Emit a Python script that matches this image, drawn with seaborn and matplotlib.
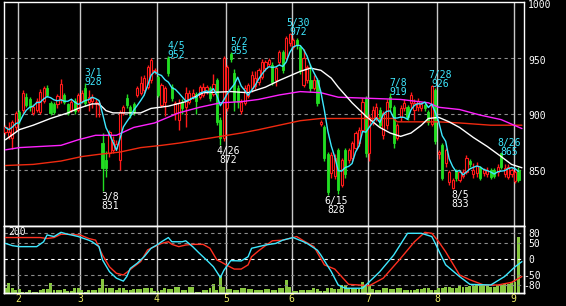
import numpy as np
import pandas as pd
import matplotlib
matplotlib.use("Agg")
import matplotlib.pyplot as plt
import seaborn as sns
from matplotlib.transforms import offset_copy

# ---------------- data ----------------
opens = [884,880,879,888,902,904,915,913,901,904,
         902,912,923,910,909,909,913,917,909,904,
         912,904,912,923,911,912,910,908,874,859,
         865,868,870,859,901,914,906,909,917,919,
         921,924,930,938,933,908,911,950,924,901,
         895,911,906,911,916,918,915,917,920,923,
         918,930,895,879,905,954,937,923,903,910,
         916,923,925,929,933,941,945,944,930,946,
         955,950,963,960,966,960,926,930,930,923,
         930,891,888,864,847,845,868,837,868,859,
         861,870,874,886,914,865,895,897,904,881,
         890,915,906,879,897,905,906,910,904,906,
         905,908,902,891,921,864,872,856,839,834,
         849,841,845,848,858,846,847,852,847,846,
         850,850,848,865,846,844,846,840,850]
highs = [890,893,895,903,904,921,919,915,909,914,
         922,925,926,912,911,918,931,919,910,913,
         914,919,921,928,921,918,913,912,883,867,
         886,880,877,904,908,918,908,911,925,934,
         935,944,950,941,935,928,925,952,927,912,
         913,913,924,921,922,920,926,928,926,925,
         936,932,897,952,944,955,940,926,913,926,
         928,938,938,941,949,948,950,946,943,957,
         957,970,972,968,968,962,958,944,945,935,
         932,895,890,866,866,864,870,861,870,870,
         876,885,888,914,916,900,907,910,906,903,
         913,919,908,892,908,913,908,920,913,914,
         911,910,904,926,923,868,874,870,850,843,
         851,850,851,863,860,856,857,854,852,853,
         852,852,855,865,855,855,852,850,853]
lows = [882,878,869,885,891,900,906,903,899,902,
        900,910,915,899,900,905,910,909,899,902,
        900,902,910,907,903,905,897,897,831,844,
        862,865,868,850,899,905,896,899,915,917,
        919,922,928,936,915,906,898,934,912,895,
        886,900,888,909,913,900,913,915,918,912,
        916,890,872,876,903,946,903,905,900,908,
        914,920,922,926,931,938,943,926,925,944,
        937,948,961,958,958,936,924,928,920,921,
        907,889,858,828,843,842,829,835,843,856,
        858,868,871,884,862,858,890,894,888,878,
        887,903,870,877,894,903,895,905,895,903,
        903,903,890,889,873,860,841,853,837,833,
        840,839,843,846,853,843,844,841,845,844,
        842,843,845,851,844,842,844,838,839]
closes = [888,884,893,901,896,919,908,906,906,912,
          920,923,917,901,902,916,927,911,901,911,
          903,917,919,910,915,914,911,910,852,852,
          884,877,873,902,906,908,899,902,923,928,
          932,942,948,939,917,926,923,937,914,910,
          910,905,919,919,919,912,924,924,924,914,
          927,893,879,950,942,949,912,911,911,923,
          926,935,932,939,946,946,948,929,941,955,
          939,968,971,966,962,939,950,942,923,930,
          910,893,861,830,863,861,832,859,846,868,
          874,883,886,911,865,897,904,906,890,901,
          911,906,874,890,905,910,897,917,910,912,
          909,905,893,925,876,866,843,868,848,841,
          843,848,848,861,855,850,854,843,850,850,
          844,845,853,853,852,853,850,848,841]
volume = [14,29,14,9,11,4,4,8,4,4,
          9,13,11,31,9,9,9,11,6,6,
          14,14,9,4,9,9,9,16,42,16,
          16,16,9,14,14,9,9,11,11,11,
          14,14,14,6,6,9,16,11,11,18,
          18,9,9,18,18,4,4,9,9,14,
          26,9,51,19,11,11,9,9,14,14,
          11,11,9,9,9,12,12,9,9,14,
          14,39,19,7,7,9,9,9,9,14,
          11,7,7,14,14,11,11,24,24,14,
          14,11,11,34,24,24,11,9,9,14,
          14,11,11,14,14,9,9,9,9,11,
          11,14,14,9,9,14,14,19,19,16,
          16,24,19,19,21,21,26,26,24,24,
          19,19,24,24,26,26,34,34,166]

# moving averages (day index, price)
ma_white_day = [0,4,8,13,18,21,25,27,29,31,39,42,47,52,57,65,70,75,79,85,88,91,94,96,100,104,108,111,114,117,120,122,125,128,131,135,139,143,146,149]
ma_white_val = [877,886,890,896,901,905,909,909,903,901,901,905,907,911,919,920,919,924,930,938,941,939,932,924,910,898,888,883,880,883,890,896,897,893,888,879,871,862,855,852]
ma_mag_day = [0,4,16,21,26,32,37,43,50,56,62,68,73,79,85,91,96,105,114,122,125,131,137,143,149]
ma_mag_val = [868,870,872,877,881,881,888,892,901,906,910,911,913,917,920,919,915,914,913,910,906,904,899,895,887]
ma_red_day = [0,8,16,22,27,33,39,45,50,56,62,68,73,79,85,91,97,105,112,113,125,131,140,149]
ma_red_val = [854,855,858,862,864,866,870,872,874,877,880,883,886,890,894,896,896,896,896,893,893,892,890,890]

# oscillator (day index, value)
osc1_day = [0,2,4,9,11,12,14,16,18,19,21,24,25,27,28,30,32,34,35,36,38,40,42,44,45,47,48,51,52,54,56,58,60,62,63,65,68,70,71,73,75,78,80,83,86,87,90,91,94,96,98,103,104,108,112,116,120,123,124,127,131,134,140,144,147,149]
osc1_val = [48,41,38,38,53,74,69,82,76,74,69,58,53,38,-3,-39,-59,-68,-54,-29,-13,7,33,45,53,66,53,53,56,38,17,-3,-24,-57,-35,-5,-6,7,33,38,43,48,58,66,53,48,27,12,-39,-80,-90,-90,-80,-39,12,79,79,69,48,-18,-54,-78,-80,-54,-24,-8]
osc2_day = [0,10,12,14,16,18,21,22,24,26,28,30,32,34,35,37,39,41,43,45,47,48,50,52,54,57,59,61,62,64,66,68,70,71,73,75,77,80,84,86,89,92,95,99,105,109,114,118,121,123,125,127,131,134,138,142,146,149]
osc2_val = [66,66,63,66,76,76,74,72,63,58,12,-24,-44,-49,-41,-24,-8,28,38,48,53,45,38,43,45,45,33,-3,-8,-20,-31,-31,-18,7,25,41,56,58,69,56,38,-18,-31,-78,-82,-59,2,53,82,79,53,22,-49,-64,-80,-80,-72,-54]

month_labels = ['2', '3', '4', '5', '6', '7', '8', '9']
month_first_day = [4, 22, 44, 64, 83, 105, 125, 147]

high_marks = {23: '3/1', 47: '4/5', 65: '5/2', 82: '5/30', 111: '7/8', 123: '7/28', 143: '8/26'}
low_marks = {28: '3/8', 62: '4/26', 93: '6/15', 129: '8/5'}

price_ticks = [850, 900, 950, 1000]
osc_ticks = [80, 50, 0, -50, -80]

# ---------------- style ----------------
sns.set_theme(style="dark", rc={"axes.facecolor": "black", "figure.facecolor": "black",
                                "savefig.facecolor": "black", "axes.edgecolor": "white",
                                "axes.grid": False})
plt.rcParams['font.family'] = ['DejaVu Sans Mono', 'DejaVu Sans']

RED = '#ff1a1a'
GREEN = '#22dd22'
CYAN = '#3ee8ff'
WHITE = '#ffffff'
MAG = '#ff22ff'
MARED = '#f02a10'
VOLC = '#88c840'
GRID = '#8c8c8c'
VGRID = '#c8c8c8'
YEL = '#eeee66'
FS = 7

W, H = 566, 306
fig = plt.figure(figsize=(W / 100, H / 100), dpi=100)

def rect(x0, y0, x1, y1):
    return [x0 / W, 1 - y1 / H, (x1 - x0) / W, (y1 - y0) / H]

ax1 = fig.add_axes(rect(4, 2, 524, 226))
axv = fig.add_axes(rect(4, 226, 524, 293))
ax2 = fig.add_axes(rect(4, 226, 524, 293))
ax2.patch.set_alpha(0)

XL = (-0.43, 149.6)
for a in (ax1, axv, ax2):
    a.set_xlim(*XL)
    a.set_xticks([])
    a.set_yticks([])
    for s in a.spines.values():
        s.set_color('white')
        s.set_linewidth(1.0)
ax1.set_ylim(800, 1000)
ax2.set_ylim(-104.6, 101.5)
axv.set_ylim(0, 200)

idx = np.arange(len(closes))
o, h, l, c = (np.array(v, float) for v in (opens, highs, lows, closes))
up = c >= o

# grid lines
for p in price_ticks[:-1]:
    ax1.axhline(p, color=GRID, lw=0.8, ls=(0, (3, 3)), zorder=1)
for v in osc_ticks:
    ax2.axhline(v, color=('#ffffff' if v == 0 else GRID), lw=0.8, ls=(0, (3, 3)), zorder=1)
for d in month_first_day:
    ax1.axvline(d - 0.4, color=VGRID, lw=1.0, zorder=1)
    axv.axvline(d - 0.4, color=VGRID, lw=1.0, zorder=1)

# candles
ax1.vlines(idx, l, h, colors=np.where(up, RED, GREEN), lw=1.0, zorder=3)
ax1.bar(idx[up], np.maximum(c[up] - o[up], 0.3), bottom=o[up], width=0.62,
        facecolor='black', edgecolor=RED, lw=0.8, zorder=4)
ax1.bar(idx[~up], o[~up] - c[~up], bottom=c[~up], width=0.62,
        facecolor=GREEN, edgecolor=GREEN, lw=0.6, zorder=4)

# moving averages
ma5 = pd.Series(closes, dtype=float).rolling(5, min_periods=1).mean()
sns.lineplot(x=ma_red_day, y=ma_red_val, ax=ax1, color=MARED, lw=1.0, zorder=5, legend=False)
sns.lineplot(x=ma_mag_day, y=ma_mag_val, ax=ax1, color=MAG, lw=1.0, zorder=5, legend=False)
sns.lineplot(x=ma_white_day, y=ma_white_val, ax=ax1, color=WHITE, lw=1.0, zorder=5, legend=False)
sns.lineplot(x=idx, y=ma5.values, ax=ax1, color=CYAN, lw=1.0, zorder=6, legend=False)
ax1.set_xlim(*XL)
ax1.set_ylim(800, 1000)

# high / low labels
for d, lab in high_marks.items():
    t1 = offset_copy(ax1.transData, fig=fig, x=8, y=-2, units='dots')
    t0 = offset_copy(ax1.transData, fig=fig, x=8, y=7, units='dots')
    ax1.text(d, highs[d], f"{highs[d]}", transform=t1, ha='center', va='baseline',
             color=CYAN, fontsize=FS, zorder=7)
    ax1.text(d, highs[d], lab, transform=t0, ha='center', va='baseline',
             color=CYAN, fontsize=FS, zorder=7)
for d, lab in low_marks.items():
    t0 = offset_copy(ax1.transData, fig=fig, x=8, y=-9, units='dots')
    t1 = offset_copy(ax1.transData, fig=fig, x=8, y=-18, units='dots')
    ax1.text(d, lows[d], lab, transform=t0, ha='center', va='baseline',
             color=WHITE, fontsize=FS, zorder=7, clip_on=False)
    ax1.text(d, lows[d], f"{lows[d]}", transform=t1, ha='center', va='baseline',
             color=WHITE, fontsize=FS, zorder=7, clip_on=False)

# right-hand scales
for p in price_ticks:
    tr = offset_copy(ax1.get_yaxis_transform(), fig=fig, x=4, y=-2.5, units='dots')
    ax1.text(1, p, str(p), transform=tr, ha='left', va='center', color='white',
             fontsize=FS, clip_on=False)
for v in osc_ticks:
    tr = offset_copy(ax2.get_yaxis_transform(), fig=fig, x=(4 if v >= 0 else -1), y=-1,
                     units='dots')
    ax2.text(1, v, str(v), transform=tr, ha='left', va='center', color='white',
             fontsize=FS, clip_on=False)

# volume + oscillator
axv.bar(idx, volume, width=0.85, color=VOLC, lw=0, zorder=2)
sns.lineplot(x=osc2_day, y=osc2_val, ax=ax2, color='#ff3020', lw=1.0, zorder=4, legend=False)
sns.lineplot(x=osc1_day, y=osc1_val, ax=ax2, color=CYAN, lw=1.0, zorder=5, legend=False)
ax2.set_xlim(*XL)
ax2.set_ylim(-104.6, 101.5)
tr = offset_copy(ax2.transAxes, fig=fig, x=4, y=-1, units='dots')
ax2.text(0, 1, '200', transform=tr, ha='left', va='top', color='white', fontsize=FS)

# month labels
for d, lab in zip(month_first_day, month_labels):
    tr = offset_copy(ax2.get_xaxis_transform(), fig=fig, x=0, y=-5.5, units='dots')
    ax2.text(d - 0.4, 0, lab, transform=tr, ha='center', va='center', color=YEL,
             fontsize=FS, clip_on=False)

for a in (ax1, axv, ax2):
    a.set_xlabel('')
    a.set_ylabel('')
    a.set_xticks([])
    a.set_yticks([])

fig.savefig('out.png', dpi=100, facecolor='black')
